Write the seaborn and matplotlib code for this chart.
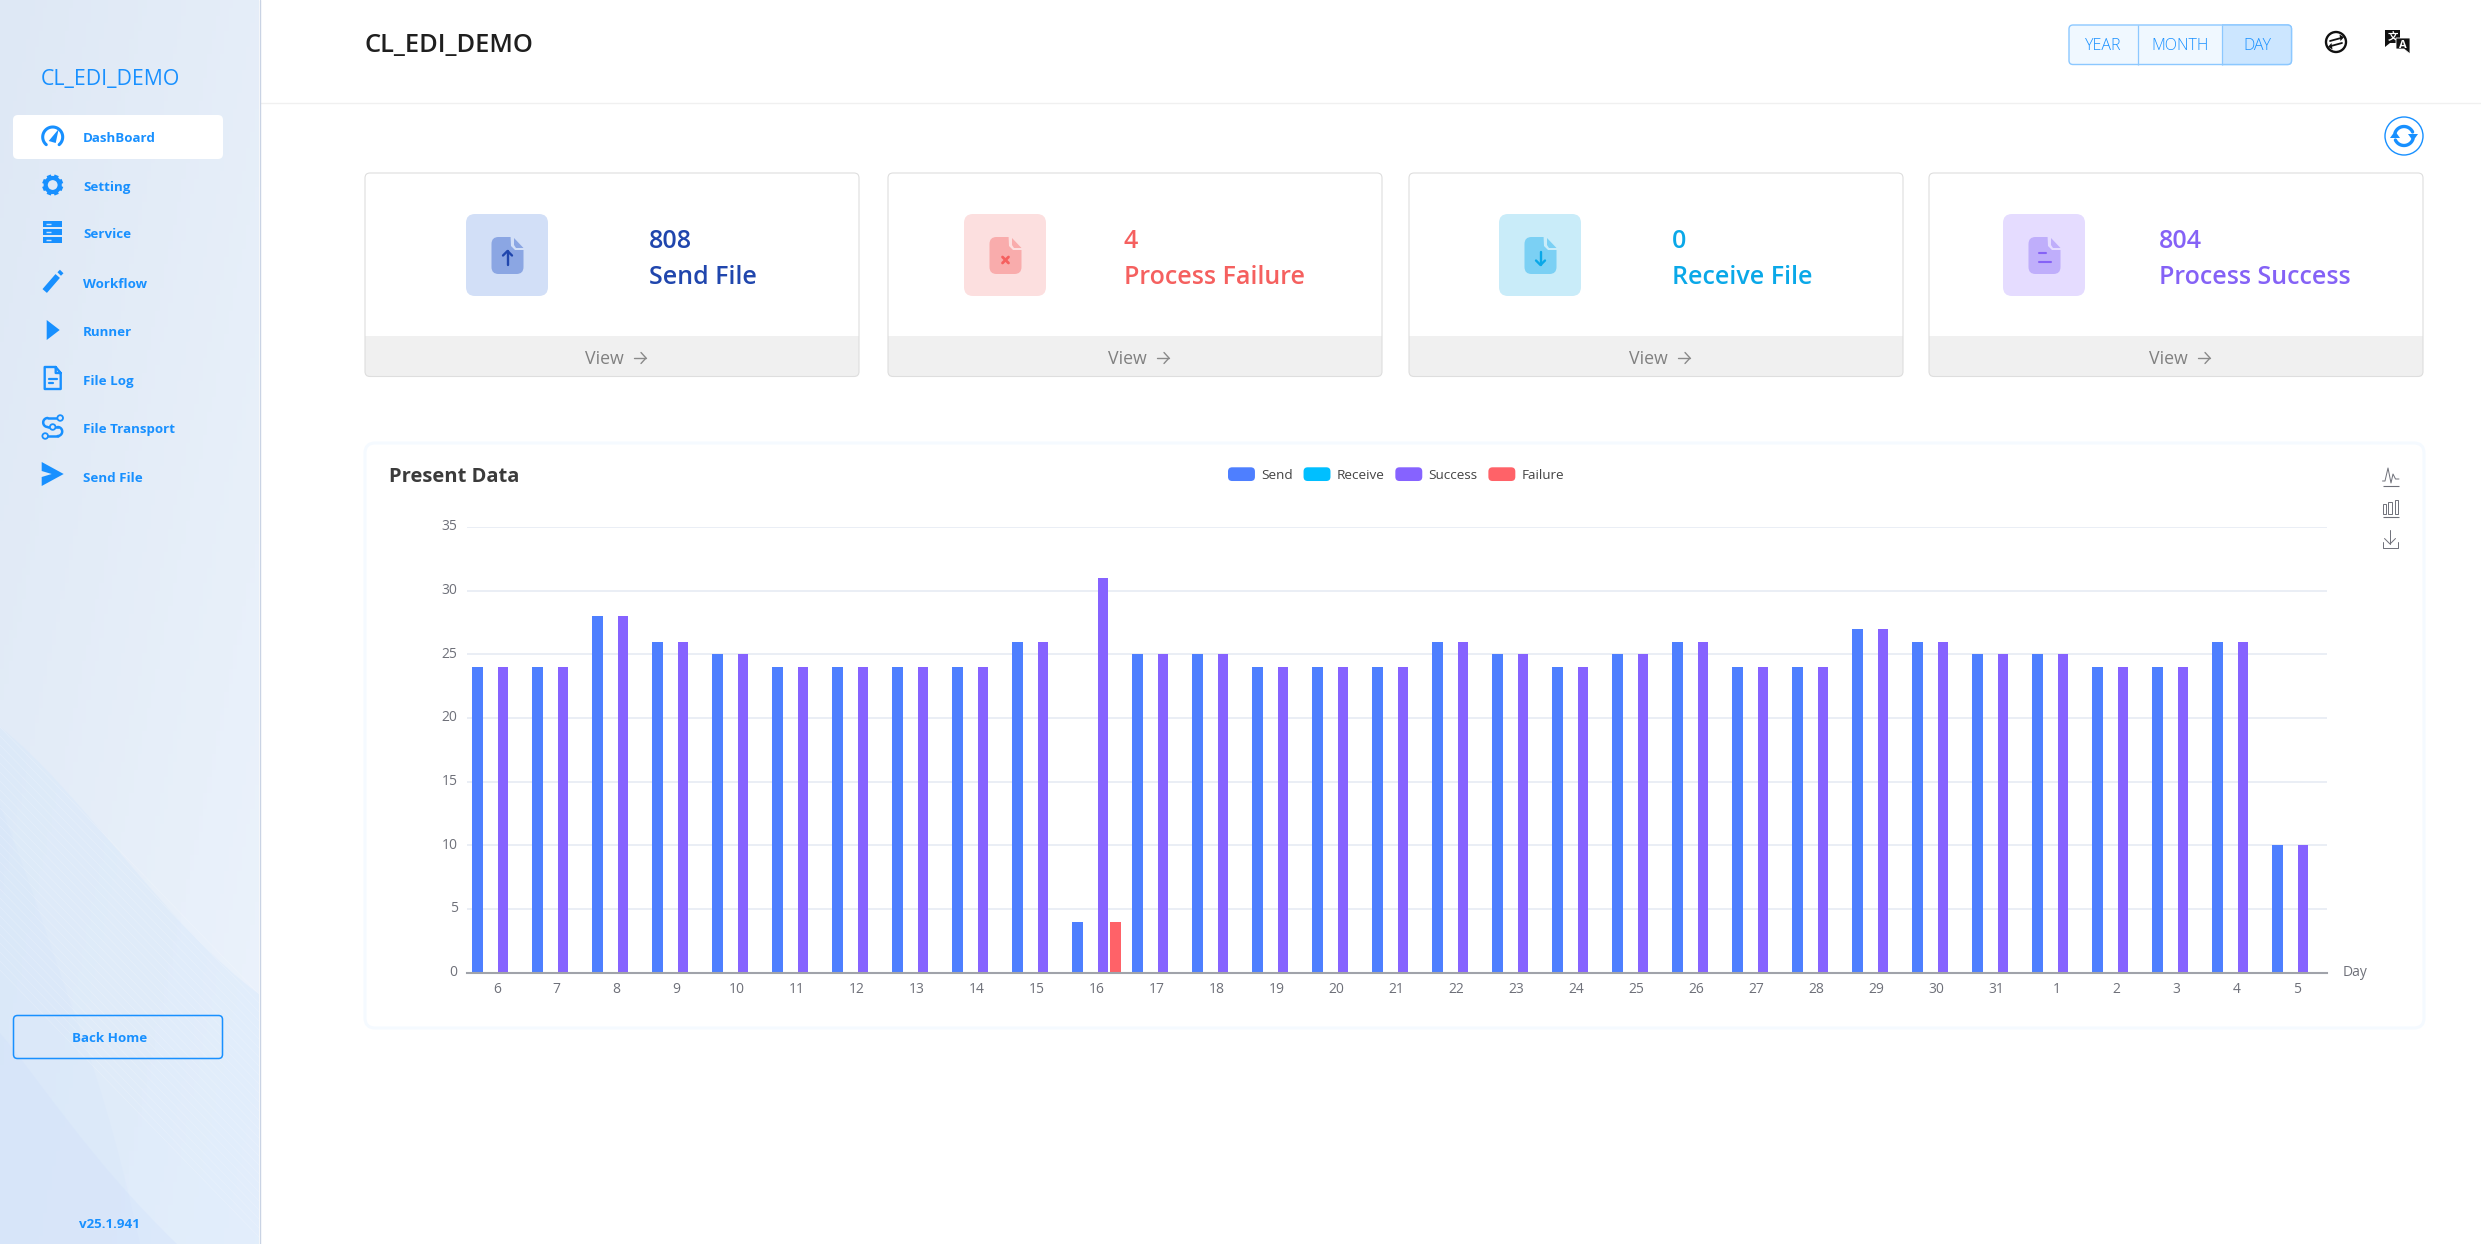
# EDI dashboard screenshot: sidebar, cards and daily bar chart

import numpy as np
import pandas as pd
import matplotlib
matplotlib.use('Agg')
import matplotlib.pyplot as plt
import seaborn as sns
from matplotlib.legend_handler import HandlerPatch
from matplotlib.patches import Circle, FancyBboxPatch, PathPatch, Polygon, Rectangle
from matplotlib.path import Path

days = ['6', '7', '8', '9', '10', '11', '12', '13', '14', '15', '16', '17', '18', '19', '20', '21',
        '22', '23', '24', '25', '26', '27', '28', '29', '30', '31', '1', '2', '3', '4', '5']
send = [24, 24, 28, 26, 25, 24, 24, 24, 24, 26, 4, 25, 25, 24, 24, 24,
        26, 25, 24, 25, 26, 24, 24, 27, 26, 25, 25, 24, 24, 26, 10]
receive = [0] * 31
success = [24, 24, 28, 26, 25, 24, 24, 24, 24, 26, 31, 25, 25, 24, 24, 24,
           26, 25, 24, 25, 26, 24, 24, 27, 26, 25, 25, 24, 24, 26, 10]
failure = [0, 0, 0, 0, 0, 0, 0, 0, 0, 0, 4, 0, 0, 0, 0, 0,
           0, 0, 0, 0, 0, 0, 0, 0, 0, 0, 0, 0, 0, 0, 0]
series_names = ['Send', 'Receive', 'Success', 'Failure']
series_colors = ['#4e7fff', '#00bfff', '#8663ff', '#ff6268']
y_ticks = [0, 5, 10, 15, 20, 25, 30, 35]

menu_items = ['DashBoard', 'Setting', 'Service', 'Workflow', 'Runner', 'File Log', 'File Transport', 'Send File']
menu_text_y = [139, 188, 235, 284, 333, 381, 430, 478]
menu_icon_y = [137, 185, 232, 282, 330, 378, 427, 474]

card_values = ['808', '4', '0', '804']
card_labels = ['Send File', 'Process Failure', 'Receive File', 'Process Success']
card_left = [365, 888, 1409, 1929]
card_icon_left = [466, 964, 1499, 2003]
card_text_left = [649, 1124, 1672, 2159]
card_text_color = ['#2046ad', '#f5605f', '#0aa8e8', '#8562f6']
card_box_color = ['#d2dff7', '#fcdfdf', '#c9ecf9', '#e5dcff']
card_doc_color = ['#8ba6e3', '#f9acac', '#7bd0f4', '#bfaefb']

BLUE = '#1890ff'
W, H = 2481, 1244

sns.set_theme(style='white')
plt.rcParams['font.family'] = ['Open Sans', 'DejaVu Sans']
plt.rcParams['patch.force_edgecolor'] = False

fig = plt.figure(figsize=(W / 100, H / 100), dpi=100, facecolor='white')

# full size axes in pixel coordinates for the page around the chart
page = fig.add_axes([0, 0, 1, 1], zorder=0)
page.set_xlim(0, W)
page.set_ylim(H, 0)
page.axis('off')


def round_box(x0, y0, x1, y1, r, fc='none', ec='none', lw=0.0, z=2):
    box = FancyBboxPatch((x0, y0), x1 - x0, y1 - y0, boxstyle=f'round,pad=0,rounding_size={r}',
                         fc=fc, ec=ec, lw=lw, zorder=z)
    page.add_patch(box)
    return box


def curve_patch(points, color, alpha, z=1):
    # points: start, then triples of bezier control points
    codes = [Path.MOVETO] + [Path.CURVE4] * (len(points) - 1)
    page.add_patch(PathPatch(Path(points, codes), fc=color, ec='none', alpha=alpha, zorder=z))


def line(xs, ys, color, lw=1.4, z=3, cap='round', alpha=None):
    page.plot(xs, ys, color=color, lw=lw, zorder=z, solid_capstyle=cap, solid_joinstyle='round', alpha=alpha)


def arc(cx, cy, r, a0, a1, color, lw=1.4, z=3):
    t = np.radians(np.linspace(a0, a1, 40))
    line(cx + r * np.cos(t), cy - r * np.sin(t), color, lw, z)


# sidebar background
grad_x, grad_y = np.meshgrid(np.linspace(0, 1, 60), np.linspace(0, 1, 160))
grad_t = (0.5 * grad_x + 0.5 * grad_y)[..., None]
grad = (1 - grad_t) * np.array([0.871, 0.910, 0.961]) + grad_t * np.array([0.925, 0.953, 0.988])
page.imshow(grad, extent=(0, 259, H, 0), aspect='auto', zorder=0)
page.set_xlim(0, W)
page.set_ylim(H, 0)

band = [(0, 727), (80, 790), (170, 930), (259, 994), (259, 1100), (259, 1170), (259, 1244),
        (170, 1244), (80, 1244), (0, 1244), (0, 1000), (0, 860), (0, 727)]
curve_patch(band, '#d5e7fb', 0.40)
left_a = [(0, 805), (30, 880), (60, 975), (73, 1010), (95, 1070), (115, 1130), (140, 1244),
          (90, 1244), (40, 1244), (0, 1244), (0, 1100), (0, 950), (0, 805)]
curve_patch(left_a, '#d0e2fb', 0.18)
left_b = [(0, 1033), (40, 1080), (90, 1160), (177, 1244), (120, 1244), (60, 1244), (0, 1244),
          (0, 1180), (0, 1100), (0, 1033)]
curve_patch(left_b, '#cfdffb', 0.30)
for off in range(0, 250, 9):
    line(np.array([0, 259]), np.array([727, 994]) + off, '#ffffff', 0.5, z=1, alpha=0.22)
line([259.5, 259.5], [0, H], '#c9d3e4', 1.0, z=2)

page.text(41, 79, 'CL_EDI_DEMO', color=BLUE, fontsize=15.3, va='center', ha='left', zorder=5)
round_box(13, 115, 223, 159, 5, fc='white')
for label, y in zip(menu_items, menu_text_y):
    page.text(83, y, label, color=BLUE, fontsize=9.6, fontweight='bold', va='center', ha='left', zorder=5)

# sidebar icons, cx is the shared centre line
cx = 52.7
y = menu_icon_y[0]
arc(cx, y, 10, -50, 230, BLUE, 2.2)
page.add_patch(Polygon([(cx - 4, y + 4), (cx + 6, y - 8), (cx + 3, y + 6)], fc=BLUE, zorder=3))
y = menu_icon_y[1]
page.add_patch(Circle((cx, y), 7, fc='none', ec=BLUE, lw=3.0, zorder=3))
for a in np.radians(np.arange(0, 360, 45) + 22.5):
    line([cx + 8 * np.cos(a), cx + 10.5 * np.cos(a)], [y + 8 * np.sin(a), y + 10.5 * np.sin(a)], BLUE, 3.2, cap='butt')
y = menu_icon_y[2]
for dy in (-11, -3, 5):
    page.add_patch(Rectangle((cx - 9.5, y + dy), 19, 6.2, fc=BLUE, zorder=3))
    line([cx - 7, cx - 2], [y + dy + 3, y + dy + 3], '#cfe3fb', 1.0, z=4, cap='butt')
y = menu_icon_y[3]
line([cx - 8, cx + 5], [y + 9, y - 6], BLUE, 4.2, cap='butt')
line([cx + 6.5, cx + 9], [y - 8, y - 10.5], BLUE, 3.6, cap='butt')
y = menu_icon_y[4]
page.add_patch(Polygon([(cx - 6, y - 10), (cx + 7, y), (cx - 6, y + 10)], fc=BLUE, zorder=3))
y = menu_icon_y[5]
line([cx + 3, cx - 8, cx - 8, cx + 8, cx + 8, cx + 3, cx + 3, cx + 8],
     [y - 11, y - 11, y + 11, y + 11, y - 5, y - 11, y - 5, y - 5], BLUE, 1.7)
line([cx - 4, cx + 4], [y + 1, y + 1], BLUE, 1.6)
line([cx - 4, cx], [y + 5, y + 5], BLUE, 1.6)
y = menu_icon_y[6]
line([cx + 5, cx - 5], [y - 9, y - 9], BLUE, 1.8)
arc(cx - 5, y - 4.5, 4.5, 90, 270, BLUE, 1.8)
line([cx - 5, cx + 5], [y, y], BLUE, 1.8)
arc(cx + 5, y + 4.5, 4.5, -90, 90, BLUE, 1.8)
line([cx + 5, cx - 5], [y + 9, y + 9], BLUE, 1.8)
for px, py in [(cx + 7.5, y - 9), (cx, y), (cx - 7.5, y + 9)]:
    page.add_patch(Circle((px, py), 2.8, fc='#e0e9f6', ec=BLUE, lw=1.3, zorder=4))
y = menu_icon_y[7]
page.add_patch(Polygon([(cx - 11, y - 12), (cx + 11, y), (cx - 11, y + 12), (cx - 11, y + 3), (cx - 1, y),
                        (cx - 11, y - 3)], fc=BLUE, zorder=3))

round_box(13.5, 1015.5, 222.5, 1058.5, 4, ec=BLUE, lw=1.1)
page.text(110, 1039, 'Back Home', color=BLUE, fontsize=9.6, fontweight='bold', ha='center', va='center', zorder=5)
page.text(109, 1224, 'v25.1.941', color=BLUE, fontsize=9.6, fontweight='bold', ha='center', va='center', zorder=5)

# header
page.text(365, 45, 'CL_EDI_DEMO', color='#1f1f1f', fontsize=18.4, fontweight='semibold', va='center', zorder=5)
line([260, W], [102.5, 102.5], '#f0f0f0', 1.0, z=1, cap='butt')
round_box(2069, 25, 2291.5, 64.5, 4, fc='#f0f8ff', ec='#8cc8ff', lw=1.0)
day_box = round_box(2069, 25, 2291.5, 64.5, 4, fc='#cce6ff', ec='#8cc8ff', lw=1.0, z=2.1)
day_box.set_clip_path(Rectangle((2221.5, 20), 80, 50, transform=page.transData))
line([2138, 2138], [25, 64.5], '#8cc8ff', 0.9, cap='butt')
line([2221.5, 2221.5], [25, 64.5], '#8cc8ff', 0.9, cap='butt')
for label, x in zip(['YEAR', 'MONTH', 'DAY'], [2103.5, 2180, 2257]):
    page.text(x, 46.5, label, color=BLUE, fontsize=11.5, fontweight='light', ha='center', va='center', zorder=5)

# exchange and translate icons
page.add_patch(Circle((2336, 42), 10, fc='white', ec='#111111', lw=1.7, zorder=3))
for sgn in (1, -1):
    line([2336 - 6 * sgn, 2336 + 5 * sgn], [42 - 1 * sgn, 42 - 4 * sgn], '#111111', 1.3)
    page.add_patch(Polygon([(2336 + 8 * sgn, 42 - 4.8 * sgn), (2336 + 3.5 * sgn, 42 - 7.5 * sgn),
                            (2336 + 4.5 * sgn, 42 - 1 * sgn)], fc='#111111', zorder=3))
page.add_patch(Polygon([(2385, 30), (2400, 30), (2400, 43), (2390, 43), (2385, 47)], fc='#111111', zorder=3))
page.text(2392.5, 37, '文', color='white', fontsize=7.5, family=['Noto Sans CJK SC', 'DejaVu Sans'],
          fontweight='bold', ha='center', va='center', zorder=4)
page.add_patch(Polygon([(2396, 38), (2410, 38), (2410, 54), (2404, 49), (2396, 49)], fc='#111111', ec='white',
                       lw=0.6, zorder=4))
page.text(2403, 45, 'A', color='white', fontsize=8, fontweight='bold', ha='center', va='center', zorder=5)

# refresh button
page.add_patch(Circle((2404, 136), 19, fc='white', ec=BLUE, lw=1.0, zorder=3))
arc(2404, 136, 9.5, 25, 160, BLUE, 2.4)
arc(2404, 136, 9.5, 205, 340, BLUE, 2.4)
page.add_patch(Polygon([(2408, 134), (2418, 134), (2413, 141)], fc=BLUE, zorder=4))
page.add_patch(Polygon([(2390, 138), (2400, 138), (2395, 131)], fc=BLUE, zorder=4))

# summary cards
for i in range(4):
    x0 = card_left[i]
    x1 = x0 + 494
    card = round_box(x0, 173, x1, 376.5, 5, fc='white', ec='none')
    foot = Rectangle((x0, 336), 494, 41, fc='#f0f0f0', ec='none', zorder=2.1)
    page.add_patch(foot)
    foot.set_clip_path(card.get_path(), card.get_transform())
    round_box(x0, 173, x1, 376.5, 5, ec='#dedede', lw=0.8, z=2.2)

    ix = card_icon_left[i]
    round_box(ix, 214, ix + 82, 296, 9, fc=card_box_color[i])
    round_box(ix + 25.5, 237, ix + 57.5, 274, 7, fc=card_doc_color[i], z=2.5)
    page.add_patch(Polygon([(ix + 44.5, 235), (ix + 59, 235), (ix + 59, 250), (ix + 49, 250), (ix + 45, 246)],
                           fc=card_box_color[i], zorder=2.6))
    page.add_patch(Polygon([(ix + 48, 238), (ix + 57.5, 248), (ix + 50, 248), (ix + 48, 245)],
                           fc=card_doc_color[i], zorder=2.7))
    mid = ix + 41.5
    if i == 0 or i == 2:
        top, tip = (252, 265) if i == 2 else (265, 251)
        wing = -4.5 if i == 2 else 4.5
        line([mid, mid], [top, tip], card_text_color[i], 1.7, z=3)
        line([mid - 4.5, mid, mid + 4.5], [tip + wing, tip, tip + wing], card_text_color[i], 1.7, z=3)
    elif i == 1:
        line([mid - 3, mid + 3], [257, 263], card_text_color[i], 2.0, z=3)
        line([mid - 3, mid + 3], [263, 257], card_text_color[i], 2.0, z=3)
    else:
        line([mid - 6, mid + 1], [253, 253], card_text_color[i], 1.5, z=3)
        line([mid - 6, mid + 6], [262, 262], card_text_color[i], 1.5, z=3)

    tx = card_text_left[i]
    page.text(tx, 242, card_values[i], color=card_text_color[i], fontsize=18, fontweight='semibold',
              ha='left', va='center', zorder=5)
    page.text(tx, 277, card_labels[i], color=card_text_color[i], fontsize=18, fontweight='semibold',
              ha='left', va='center', zorder=5)

    vx = x0 + 220
    page.text(vx, 358.5, 'View', color='#808080', fontsize=12.8, ha='left', va='center', zorder=5)
    line([vx + 49, vx + 61], [358, 358], '#8a8a8a', 1.0, z=5)
    line([vx + 56, vx + 61, vx + 56], [352.5, 358, 363.5], '#8a8a8a', 1.0, z=5)

# chart panel
round_box(365, 443, 2424, 1028, 10, fc='white', ec='#f5faff', lw=2.2, z=1)
page.text(389, 477, 'Present Data', color='#3b3b3b', fontsize=14.5, fontweight='bold', va='center', zorder=5)

# toolbox icons at the panel's right side
GREY = '#6e7079'
line([2382.5, 2385, 2388, 2391, 2393, 2395.5, 2399], [481, 481, 468, 483, 474, 479, 479], GREY, 0.7)
line([2382.5, 2399], [486, 486], GREY, 0.8, cap='butt')
for bx, bw, bt in zip([2382.8, 2388.3, 2394.6], [3.4, 3.7, 3.7], [504.4, 502, 499.5]):
    page.add_patch(Rectangle((bx, bt), bw, 514 - bt, fc='none', ec=GREY, lw=0.7, zorder=3))
line([2382.5, 2399], [516.6, 516.6], GREY, 0.8, cap='butt')
line([2390, 2390], [530, 544], GREY, 0.7)
line([2384.5, 2390, 2395.5], [538.5, 544, 538.5], GREY, 0.7)
line([2382.8, 2382.8, 2398, 2398], [542, 547.5, 547.5, 542], GREY, 0.7)

# bar chart
df = pd.DataFrame({'day': days, 'Send': send, 'Receive': receive, 'Success': success, 'Failure': failure})
long_df = df.melt(id_vars='day', value_vars=series_names, var_name='series', value_name='count')

plot_x0, plot_x1, plot_top, plot_bottom = 466.7, 2326.7, 527.0, 972.5
ax = fig.add_axes([plot_x0 / W, 1 - plot_bottom / H, (plot_x1 - plot_x0) / W, (plot_bottom - plot_top) / H], zorder=1)
ax.patch.set_alpha(0)

sns.barplot(data=long_df, x='day', y='count', hue='series', order=days, hue_order=series_names,
            palette=series_colors, width=0.846, gap=0.16, linewidth=0, saturation=1, ax=ax)

ax.set_xlim(-0.5, 30.5)
ax.set_ylim(0, 35)
ax.set_yticks(y_ticks)
ax.set_ylabel('')
ax.set_xlabel('Day', fontsize=10, color=GREY, ha='left', va='center')
ax.xaxis.set_label_coords(1 + 16 / 1860, 0)
ax.grid(axis='y', color='#e8edf4', lw=1.3)
ax.set_axisbelow(True)
ax.tick_params(axis='both', length=0, labelsize=10, labelcolor=GREY)
ax.tick_params(axis='x', pad=6.5)
ax.tick_params(axis='y', pad=6.5)
for tick_label in ax.get_yticklabels():
    tick_label.set_va('center')
for side in ['top', 'right', 'left']:
    ax.spines[side].set_visible(False)
ax.spines['bottom'].set_color('#a0a3aa')
ax.spines['bottom'].set_linewidth(1.5)


class RoundHandle(HandlerPatch):
    def create_artists(self, legend, orig_handle, xdescent, ydescent, width, height, fontsize, trans):
        patch = FancyBboxPatch((-xdescent, -ydescent), width, height, boxstyle='round,pad=0,rounding_size=3',
                               fc=orig_handle.get_facecolor(), ec='none', transform=trans)
        return [patch]


handles, labels = ax.get_legend_handles_labels()
ax.legend(handles, labels, ncol=4, loc='center left', bbox_to_anchor=(1228, 474.5), bbox_transform=page.transData,
          frameon=False, fontsize=9.7, labelcolor='#444444', handlelength=2.0, handleheight=1.19, handletextpad=0.44,
          columnspacing=0.82, borderpad=0, borderaxespad=0, handler_map={Rectangle: RoundHandle()})

fig.savefig('out.png', dpi=100)
